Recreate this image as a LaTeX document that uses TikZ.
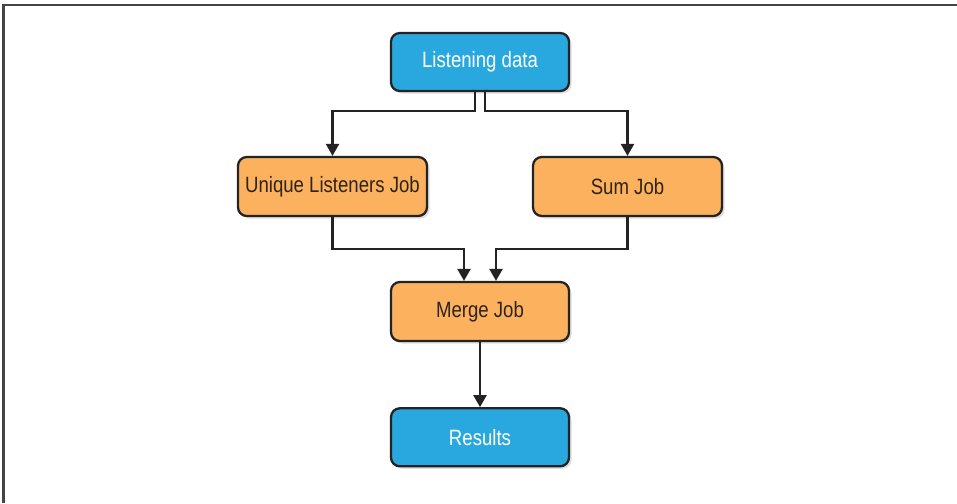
\documentclass[tikz,border=0pt]{standalone}
\usepackage{fontspec}
\setmainfont[FakeStretch=0.84]{Liberation Sans}
\usepackage{tikz}
\usetikzlibrary{arrows.meta,positioning,shadows}

\definecolor{datablue}{HTML}{29A8E0}
\definecolor{joborange}{HTML}{FBB15E}
\definecolor{edge}{HTML}{232323}
\definecolor{jobtext}{HTML}{2E2418}

\begin{document}
\begin{tikzpicture}[
    box/.style={rectangle, draw=edge, line width=1.3pt, rounded corners=5pt, align=center,
        font=\fontsize{12.6}{14}\selectfont,
        drop shadow={opacity=0.25, shadow xshift=0.05cm, shadow yshift=-0.05cm}},
    databox/.style={box, fill=datablue, text=white, minimum width=3.56cm, minimum height=1.16cm},
    jobbox/.style={box, fill=joborange, text=jobtext, minimum width=3.78cm, minimum height=1.18cm},
    arrow/.style={-{Triangle[length=2.4mm, width=2.6mm]}, line width=1.3pt, draw=edge}
]
\useasboundingbox (0,0) rectangle (19.14,-10.06);

% Frame (top and left edges only)
\draw[line width=1.2pt, edge!85] (19.14,-0.1) -- (0.07,-0.1) -- (0.07,-10.06);

% Input
\node[databox] (data) at (9.6,-1.24) {Listening data};

% Jobs
\node[jobbox] (uniq) at (6.65,-3.73) {Unique Listeners Job};
\node[jobbox] (sum) at (12.55,-3.73) {Sum Job};
\node[jobbox, minimum width=3.56cm] (merge) at (9.6,-6.23) {Merge Job};

% Output
\node[databox, below=1.3cm of merge] (res) {Results};

% Fan out
\draw[arrow] ([xshift=-0.1cm]data.south) -- ++(0,-0.38) -| (uniq.north);
\draw[arrow] ([xshift=0.1cm]data.south) -- ++(0,-0.38) -| (sum.north);

% Fan in
\draw[arrow] (uniq.south) -- ++(0,-0.64) -| ([xshift=-0.32cm]merge.north);
\draw[arrow] (sum.south) -- ++(0,-0.64) -| ([xshift=0.32cm]merge.north);

\draw[arrow] (merge) -- (res);

\end{tikzpicture}
\end{document}
